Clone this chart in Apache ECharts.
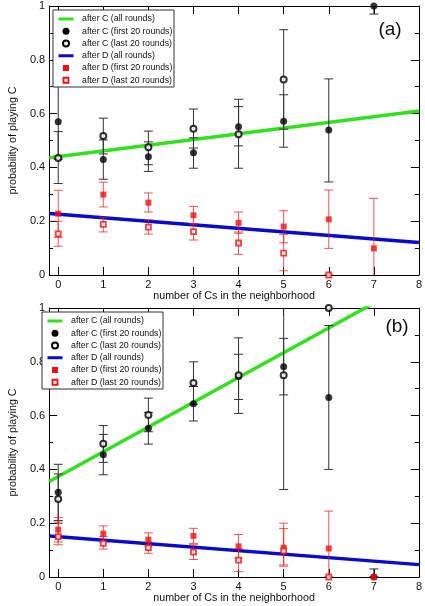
<!DOCTYPE html>
<html>
<head>
<meta charset="utf-8">
<script src="https://cdn.jsdelivr.net/npm/echarts@6/dist/echarts.min.js"></script>
<style>html,body{margin:0;padding:0;background:#fff;}#chart{width:425px;height:606px;}</style>
</head>
<body>
<div id="chart"></div>
<script>
// ---------- data ----------
const xTicks = [0, 1, 2, 3, 4, 5, 6, 7, 8];
const xRange = [-0.2, 8];
const panelLabels = ['(a)', '(b)'];
const legendLabels = ['after C (all rounds)', 'after C (first 20 rounds)', 'after C (last 20 rounds)',
  'after D (all rounds)', 'after D (first 20 rounds)', 'after D (last 20 rounds)'];
const xName = 'number of Cs in the neighborhood';
const yName = 'probability of playing C';

// panel (a)
const aCAllLine = [[-0.2, 0.436], [8, 0.61]];
const aDAllLine = [[-0.2, 0.229], [8, 0.121]];
const aCFirstX = [0, 1, 2, 3, 4, 5, 6, 7];
const aCFirst = [0.57, 0.429, 0.44, 0.454, 0.551, 0.572, 0.539, 1.0];
const aCFirstErr = [[0.43, 0.71], [0.356, 0.502], [0.385, 0.495], [0.397, 0.51], [0.48, 0.626], [0.475, 0.67], [0.346, 0.729], [0.97, 1.03]];
const aCLastX = [0, 1, 2, 3, 4, 5];
const aCLast = [0.435, 0.517, 0.475, 0.544, 0.523, 0.727];
const aCLastErr = [[0.34, 0.533], [0.45, 0.583], [0.41, 0.535], [0.472, 0.617], [0.397, 0.653], [0.542, 0.912]];
const aDFirstX = [0, 1, 2, 3, 4, 5, 6, 7];
const aDFirst = [0.228, 0.299, 0.269, 0.222, 0.194, 0.18, 0.207, 0.099];
const aDFirstErr = [[0.14, 0.315], [0.253, 0.345], [0.234, 0.305], [0.19, 0.255], [0.155, 0.234], [0.12, 0.239], [0.099, 0.316], [-0.09, 0.285]];
const aDLastX = [0, 1, 2, 3, 4, 5, 6];
const aDLast = [0.153, 0.188, 0.178, 0.161, 0.119, 0.081, 0.0];
const aDLastErr = [[0.107, 0.2], [0.16, 0.215], [0.152, 0.205], [0.13, 0.19], [0.077, 0.16], [0.016, 0.15], [0, 0]];

// panel (b)
const bCAllLine = [[-0.2, 0.355], [8, 1.11]];
const bDAllLine = [[-0.2, 0.152], [8, 0.046]];
const bCFirstX = [0, 1, 2, 3, 4, 5, 6, 7];
const bCFirst = [0.315, 0.454, 0.553, 0.644, 0.745, 0.782, 0.667, 0.0];
const bCFirstErr = [[0.21, 0.419], [0.38, 0.53], [0.494, 0.612], [0.58, 0.708], [0.608, 0.889], [0.677, 0.887], [0.4, 0.935], [0, 0.03]];
const bCLastX = [0, 1, 2, 3, 4, 5, 6];
const bCLast = [0.29, 0.495, 0.602, 0.721, 0.75, 0.75, 1.0];
const bCLastErr = [[0.2, 0.383], [0.426, 0.563], [0.54, 0.665], [0.642, 0.8], [0.66, 0.828], [0.325, 1.175], [1.0, 1.0]];
const bDFirstX = [0, 1, 2, 3, 4, 5, 6, 7];
const bDFirst = [0.176, 0.161, 0.139, 0.153, 0.114, 0.109, 0.106, 0.0];
const bDFirstErr = [[0.13, 0.221], [0.13, 0.19], [0.115, 0.164], [0.125, 0.181], [0.07, 0.158], [0.04, 0.18], [-0.05, 0.245], [0, 0]];
const bDLastX = [0, 1, 2, 3, 4, 5, 6];
const bDLast = [0.15, 0.125, 0.109, 0.093, 0.063, 0.097, 0.0];
const bDLastErr = [[0.12, 0.208], [0.104, 0.15], [0.088, 0.13], [0.065, 0.12], [0.02, 0.105], [0.045, 0.2], [0, 0]];

// ---------- styling ----------
const FONT = '"Liberation Sans", Arial, Helvetica, sans-serif';
const GREEN = '#33e01f';
const BLUE = '#0a0acc';
const RED = '#ee1111';
const BLACKBAR = '#333333';
const REDBAR = 'rgba(236,30,30,0.75)';

const chart = echarts.init(document.getElementById('chart'), null, {renderer: 'canvas'});

function pts(xs, ys) { return xs.map((x, i) => [x, ys[i]]); }
function errs(xs, e) { return xs.map((x, i) => [x, e[i][0], e[i][1]]); }

function xAxisDef(gridIndex, position, showLabel, showName) {
  return {
    type: 'value', gridIndex, position, min: xRange[0], max: xRange[1],
    name: showName ? xName : '', nameLocation: 'middle', nameGap: 13,
    nameTextStyle: {fontFamily: FONT, fontSize: 10.7, color: '#111'},
    axisLine: {show: true, onZero: false, lineStyle: {color: '#000', width: 1}},
    axisTick: {show: true, inside: true, length: 8, customValues: xTicks, lineStyle: {color: '#000'}},
    axisLabel: {show: showLabel, customValues: xTicks, margin: 4, fontFamily: FONT, fontSize: 11, color: '#111'},
    splitLine: {show: false}
  };
}
function yAxisDef(gridIndex, position, showLabel, showName) {
  return {
    type: 'value', gridIndex, position, min: 0, max: 1, interval: 0.2,
    name: showName ? yName : '', nameLocation: 'middle', nameGap: 24,
    nameTextStyle: {fontFamily: FONT, fontSize: 10.7, color: '#111'},
    axisLine: {show: true, onZero: false, lineStyle: {color: '#000', width: 1}},
    axisTick: {show: true, inside: true, length: 8, lineStyle: {color: '#000'}},
    minorTick: {show: true, splitNumber: 2, length: 4, lineStyle: {color: '#000'}},
    axisLabel: {show: showLabel, margin: 4, fontFamily: FONT, fontSize: 11, color: '#111'},
    splitLine: {show: false}
  };
}

function errSeries(name, xi, yi, data, color) {
  return {
    type: 'custom', name: name + ' err', xAxisIndex: xi, yAxisIndex: yi, clip: true, z: 3,
    silent: true,
    renderItem: function (params, api) {
      const x = api.value(0), lo = api.value(1), hi = api.value(2);
      const p1 = api.coord([x, lo]);
      const p2 = api.coord([x, hi]);
      const w = 4.5;
      const st = {stroke: color, lineWidth: 1};
      return {type: 'group', children: [
        {type: 'line', shape: {x1: p1[0], y1: p1[1], x2: p2[0], y2: p2[1]}, style: st},
        {type: 'line', shape: {x1: p1[0] - w, y1: p1[1], x2: p1[0] + w, y2: p1[1]}, style: st},
        {type: 'line', shape: {x1: p2[0] - w, y1: p2[1], x2: p2[0] + w, y2: p2[1]}, style: st}
      ]};
    },
    data: data
  };
}

function panelSeries(xi, yi, d) {
  return [
    {type: 'line', name: legendLabels[0], xAxisIndex: xi, yAxisIndex: yi, data: d.cLine, showSymbol: false, symbol: 'none',
      lineStyle: {color: GREEN, width: 3.5}, z: 2, clip: true, silent: true},
    {type: 'line', name: legendLabels[3], xAxisIndex: xi, yAxisIndex: yi, data: d.dLine, showSymbol: false, symbol: 'none',
      lineStyle: {color: BLUE, width: 3.5}, z: 2, clip: true, silent: true},
    errSeries('cf', xi, yi, errs(d.cfx, d.cfe), BLACKBAR),
    errSeries('cl', xi, yi, errs(d.clx, d.cle), BLACKBAR),
    errSeries('df', xi, yi, errs(d.dfx, d.dfe), REDBAR),
    errSeries('dl', xi, yi, errs(d.dlx, d.dle), REDBAR),
    {type: 'scatter', name: legendLabels[1], xAxisIndex: xi, yAxisIndex: yi, data: pts(d.cfx, d.cf), symbol: 'circle', symbolSize: 7,
      itemStyle: {color: '#000'}, z: 4, clip: false, silent: true},
    {type: 'scatter', name: legendLabels[2], xAxisIndex: xi, yAxisIndex: yi, data: pts(d.clx, d.cl), symbol: 'circle', symbolSize: 6,
      itemStyle: {color: '#fff', borderColor: '#000', borderWidth: 2}, z: 4, clip: false, silent: true},
    {type: 'scatter', name: legendLabels[4], xAxisIndex: xi, yAxisIndex: yi, data: pts(d.dfx, d.df), symbol: 'rect', symbolSize: 6,
      itemStyle: {color: RED}, z: 4, clip: false, silent: true},
    {type: 'scatter', name: legendLabels[5], xAxisIndex: xi, yAxisIndex: yi, data: pts(d.dlx, d.dl), symbol: 'rect', symbolSize: 5,
      itemStyle: {color: '#fff', borderColor: RED, borderWidth: 1.8}, z: 4, clip: false, silent: true}
  ];
}

function legendGraphic(left, top) {
  const children = [{type: 'rect', shape: {x: left, y: top, width: 121, height: 77},
    style: {fill: '#fff', stroke: '#333', lineWidth: 1}, z: 10}];
  const sx = left + 13, tx = left + 29;
  legendLabels.forEach((lab, i) => {
    const cy = top + 9 + i * 12.25;
    if (i === 0 || i === 3) {
      children.push({type: 'line', shape: {x1: sx - 7.5, y1: cy, x2: sx + 7.5, y2: cy},
        style: {stroke: i === 0 ? GREEN : BLUE, lineWidth: 3}, z: 11});
    } else if (i === 1) {
      children.push({type: 'circle', shape: {cx: sx, cy: cy, r: 3.5}, style: {fill: '#000'}, z: 11});
    } else if (i === 2) {
      children.push({type: 'circle', shape: {cx: sx, cy: cy, r: 3}, style: {fill: '#fff', stroke: '#000', lineWidth: 2}, z: 11});
    } else if (i === 4) {
      children.push({type: 'rect', shape: {x: sx - 3, y: cy - 3, width: 6, height: 6}, style: {fill: RED}, z: 11});
    } else {
      children.push({type: 'rect', shape: {x: sx - 2.5, y: cy - 2.5, width: 5, height: 5}, style: {fill: '#fff', stroke: RED, lineWidth: 1.8}, z: 11});
    }
    children.push({type: 'text', x: tx, y: cy, style: {text: lab, fontFamily: FONT, fontSize: 8.8, fill: '#111',
      textVerticalAlign: 'middle', textAlign: 'left'}, z: 11});
  });
  return {type: 'group', children};
}

const option = {
  animation: false,
  backgroundColor: '#fff',
  grid: [
    {left: 35, right: 6, top: 6, height: 269, containLabel: false},
    {left: 35, right: 6, top: 308, height: 269, containLabel: false}
  ],
  xAxis: [xAxisDef(0, 'bottom', true, true), xAxisDef(0, 'top', false, false),
          xAxisDef(1, 'bottom', true, true), xAxisDef(1, 'top', false, false)],
  yAxis: [yAxisDef(0, 'left', true, true), yAxisDef(0, 'right', false, false),
          yAxisDef(1, 'left', true, true), yAxisDef(1, 'right', false, false)],
  series: [].concat(
    panelSeries(0, 0, {cLine: aCAllLine, dLine: aDAllLine,
      cfx: aCFirstX, cf: aCFirst, cfe: aCFirstErr, clx: aCLastX, cl: aCLast, cle: aCLastErr,
      dfx: aDFirstX, df: aDFirst, dfe: aDFirstErr, dlx: aDLastX, dl: aDLast, dle: aDLastErr}),
    panelSeries(2, 2, {cLine: bCAllLine, dLine: bDAllLine,
      cfx: bCFirstX, cf: bCFirst, cfe: bCFirstErr, clx: bCLastX, cl: bCLast, cle: bCLastErr,
      dfx: bDFirstX, df: bDFirst, dfe: bDFirstErr, dlx: bDLastX, dl: bDLast, dle: bDLastErr})
  ),
  graphic: [
    legendGraphic(53, 10),
    legendGraphic(42, 312),
    {type: 'text', x: 390, y: 30, style: {text: panelLabels[0], fontFamily: FONT, fontSize: 19, fill: '#111',
      textAlign: 'center', textVerticalAlign: 'middle'}, z: 11},
    {type: 'text', x: 397, y: 327, style: {text: panelLabels[1], fontFamily: FONT, fontSize: 19, fill: '#111',
      textAlign: 'center', textVerticalAlign: 'middle'}, z: 11}
  ]
};
chart.setOption(option);
</script>
</body>
</html>
